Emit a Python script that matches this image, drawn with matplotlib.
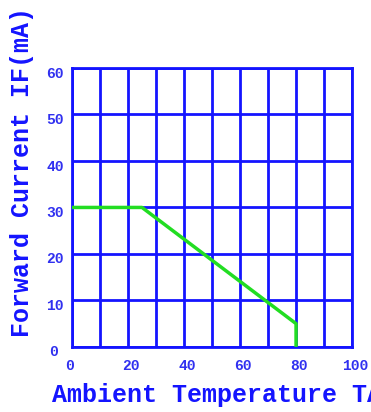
import matplotlib
matplotlib.use("Agg")
import matplotlib.pyplot as plt

# derating curve: forward current vs ambient temperature
temp = [0, 25, 80, 80]
current = [30, 30, 5, 0]

x_ticks = [0, 20, 40, 60, 80, 100]
y_ticks = [0, 10, 20, 30, 40, 50, 60]

blue = '#1414ff'
green = '#22dd22'

plt.rcParams['font.family'] = ['Liberation Mono', 'DejaVu Sans Mono']

fig = plt.figure(figsize=(3.71, 4.12), dpi=100)
ax = fig.add_axes([0.194, 0.158, 0.755, 0.677])

ax.plot(temp, current, color=green, linewidth=2.5, zorder=5, solid_capstyle='butt')

ax.set_xlim(0, 100)
ax.set_ylim(0, 60)
ax.set_xticks(range(0, 101, 10))
ax.set_yticks(range(0, 61, 10))
ax.set_xticklabels([])
ax.set_yticklabels([])
ax.tick_params(length=0)
ax.grid(True, color=blue, linewidth=2)
ax.set_axisbelow(True)
for s in ax.spines.values():
    s.set_color(blue)
    s.set_linewidth(2)

# tick labels placed just off the frame, like the original
for v in x_ticks:
    ax.annotate(str(v), (v, 0), xytext=(-2 if v == 0 else 2, -9), textcoords='offset points',
                ha='center', va='top', fontsize=10.5, fontweight='bold', color='#3030f0')
for v in y_ticks:
    ax.annotate(str(v), (0, v), xytext=(-10 if v == 0 else -6, -4), textcoords='offset points',
                ha='right', va='center', fontsize=10.5, fontweight='bold', color='#3030f0')

fig.text(0.14, 0.041, 'Ambient Temperature TA', fontsize=18, fontweight='bold', color=blue,
         ha='left', va='center')
fig.text(0.058, 0.582, 'Forward Current IF(mA)', fontsize=18, fontweight='bold', color=blue,
         ha='center', va='center', rotation=90)

fig.savefig('out.png', dpi=100)
